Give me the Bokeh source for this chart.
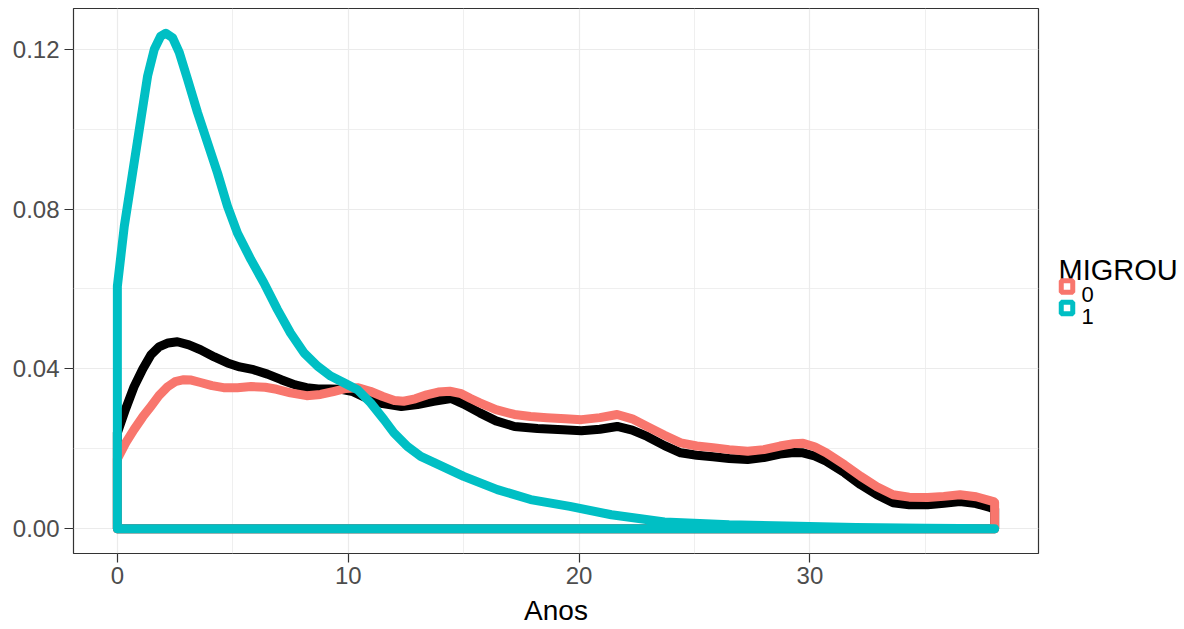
from bokeh.plotting import figure
from bokeh.layouts import row
from bokeh.models import Range1d, FixedTicker, PrintfTickFormatter
from bokeh.core.properties import value
from bokeh.embed import file_html
from bokeh.resources import INLINE

# ---- data (density estimates) ----
anos_total = [0.0, 0.36, 0.72, 1.1, 1.45, 1.8, 2.2, 2.6, 3.1, 3.6, 4.2, 4.77,
              5.3, 5.9, 6.5, 7.1, 7.7, 8.2, 8.7, 9.2, 9.7, 10.2, 10.8, 11.5,
              12.3, 13.0, 13.7, 14.45, 15.0, 15.7, 16.4, 17.2, 18.2, 19.3,
              20.1, 20.9, 21.65, 22.3, 22.95, 23.7, 24.4, 25.1, 25.8, 26.5,
              27.3, 28.0, 28.7, 29.3, 29.7, 30.2, 30.7, 31.5, 32.2, 32.9,
              33.6, 34.3, 35.1, 35.8, 36.5, 37.2, 37.8, 38.0]
dens_total = [0.024, 0.030, 0.0355, 0.040, 0.0435, 0.0455, 0.0465, 0.0468,
              0.046, 0.0448, 0.043, 0.0415, 0.0405, 0.0398, 0.0387, 0.0373,
              0.036, 0.0353, 0.035, 0.035, 0.0349, 0.0343, 0.0327, 0.0313,
              0.0306, 0.0311, 0.0319, 0.0326, 0.0312, 0.029, 0.027, 0.0256,
              0.0251, 0.0248, 0.0245, 0.0249, 0.0256, 0.0247, 0.0231, 0.0208,
              0.019, 0.0184, 0.018, 0.0176, 0.0173, 0.0178, 0.0187, 0.0191,
              0.019, 0.0182, 0.0169, 0.014, 0.011, 0.0085, 0.0065, 0.006,
              0.006, 0.0064, 0.0068, 0.0063, 0.0053, 0.005]

anos_0 = [0.0, 0.36, 0.72, 1.1, 1.45, 1.8, 2.17, 2.5, 2.88, 3.2, 3.6, 4.1,
          4.6, 5.2, 5.8, 6.4, 6.9, 7.5, 8.2, 8.8, 9.4, 9.9, 10.4, 10.95,
          11.5, 12.0, 12.4, 12.9, 13.4, 13.9, 14.4, 14.9, 15.3, 15.7, 16.4,
          17.2, 17.9, 18.6, 19.4, 20.1, 20.9, 21.65, 22.3, 22.95, 23.7, 24.4,
          25.1, 25.8, 26.5, 27.3, 28.0, 28.7, 29.3, 29.7, 30.2, 30.7, 31.5,
          32.2, 32.9, 33.6, 34.3, 35.1, 35.8, 36.5, 37.2, 37.95, 38.0]
dens_0 = [0.0175, 0.0215, 0.0248, 0.028, 0.0306, 0.0333, 0.0355, 0.0368,
          0.0373, 0.0372, 0.0366, 0.0358, 0.0353, 0.0353, 0.0356, 0.0354,
          0.0349, 0.034, 0.0333, 0.0336, 0.0344, 0.0351, 0.0353, 0.0344,
          0.0331, 0.0321, 0.0319, 0.0325, 0.0335, 0.0342, 0.0344, 0.0338,
          0.0326, 0.0315, 0.0298, 0.0286, 0.0281, 0.0278, 0.0275, 0.0273,
          0.0278, 0.0286, 0.0275, 0.0256, 0.0234, 0.0215, 0.0207, 0.0203,
          0.0198, 0.0194, 0.0198, 0.0207, 0.0213, 0.0214, 0.0205, 0.019,
          0.016, 0.0131, 0.0105, 0.0085, 0.0079, 0.0078, 0.0081, 0.0085,
          0.008, 0.0068, 0.0066]

anos_1 = [0.0, 0.3, 0.66, 1.02, 1.31, 1.6, 1.88, 2.1, 2.39, 2.68, 3.04, 3.47,
          3.9, 4.34, 4.77, 5.2, 5.78, 6.35, 6.93, 7.5, 8.09, 8.67, 9.24, 9.82,
          10.4, 10.97, 11.55, 11.98, 12.56, 13.14, 13.7, 15.0, 16.46, 17.9,
          19.6, 21.4, 23.7, 26.5, 29.0, 32.0, 35.0, 38.0]
dens_1 = [0.0607, 0.0757, 0.0891, 0.1025, 0.1133, 0.12, 0.1233, 0.124,
          0.1229, 0.1192, 0.1125, 0.1042, 0.0967, 0.089, 0.0807, 0.074,
          0.0674, 0.0615, 0.0549, 0.049, 0.044, 0.0407, 0.0382, 0.0365,
          0.0348, 0.0315, 0.0273, 0.024, 0.0206, 0.0181, 0.0166, 0.0131,
          0.0098, 0.0073, 0.0056, 0.0035, 0.0017, 0.001, 0.0007, 0.0003,
          0.0001, 0.0]

x_ticks = [0, 10, 20, 30]
x_minor = [5, 15, 25, 35]
y_ticks = [0.00, 0.04, 0.08, 0.12]
y_minor = [0.02, 0.06, 0.10]
legend_title = "MIGROU"
group_labels = ["0", "1"]
x_title = "Anos"

RED = "#F8766D"
TEAL = "#00BFC4"
FONT = "Liberation Sans"

TOP, BOTTOM = 8, 76   # borders around the panel


def closed(xs, ys):
    return [xs[0]] + list(xs) + [xs[-1]], [0.0] + list(ys) + [0.0]


# ---------------- main panel ----------------
p = figure(width=1040, height=629, output_backend="svg", toolbar_location=None,
           x_range=Range1d(-1.9, 39.9), y_range=Range1d(-0.0062, 0.1302),
           min_border_left=73, min_border_right=2, min_border_top=TOP,
           min_border_bottom=BOTTOM)

p.background_fill_color = "white"
p.border_fill_color = "white"
p.outline_line_color = "#333333"
p.outline_line_width = 1.2

for xs, ys, col in [(anos_total, dens_total, "black"),
                    (anos_0, dens_0, RED),
                    (anos_1, dens_1, TEAL)]:
    cx, cy = closed(xs, ys)
    p.patch(cx, cy, fill_alpha=0, line_color=col, line_width=9,
            line_join="round", line_cap="round")

p.xaxis.ticker = FixedTicker(ticks=x_ticks, minor_ticks=x_minor)
p.yaxis.ticker = FixedTicker(ticks=y_ticks, minor_ticks=y_minor)
p.yaxis.formatter = PrintfTickFormatter(format="%.2f")
for ax in (p.xaxis[0], p.yaxis[0]):
    ax.axis_line_color = None
    ax.major_tick_line_color = "#333333"
    ax.major_tick_line_width = 1.2
    ax.major_tick_out = 9
    ax.major_tick_in = 0
    ax.minor_tick_line_color = None
    ax.major_label_text_font = FONT
    ax.major_label_text_font_size = "24px"
    ax.major_label_text_color = "#4D4D4D"
    ax.major_label_standoff = 5
p.xaxis.major_label_standoff = 4
p.xaxis.axis_label = x_title
p.xaxis.axis_label_text_font = FONT
p.xaxis.axis_label_text_font_size = "28px"
p.xaxis.axis_label_text_font_style = "normal"
p.xaxis.axis_label_text_color = "black"
p.xaxis.axis_label_standoff = 8

for g in (p.xgrid[0], p.ygrid[0]):
    g.grid_line_color = "#EBEBEB"
    g.grid_line_width = 1.2
    g.minor_grid_line_color = "#EBEBEB"
    g.minor_grid_line_width = 0.8

# ---------------- legend panel (page pixel coordinates, y downwards) ----------------
lg = figure(width=144, height=629, output_backend="svg", toolbar_location=None,
            x_range=Range1d(1040, 1184), y_range=Range1d(629 - BOTTOM, TOP),
            min_border_left=0, min_border_right=0, min_border_top=TOP,
            min_border_bottom=BOTTOM, x_axis_type=None, y_axis_type=None)
lg.outline_line_color = None
lg.grid.visible = False
lg.background_fill_color = "white"
lg.border_fill_color = "white"

lg.text(x=[1058], y=[269], text=[legend_title], text_font=value(FONT),
        text_font_size="29px", text_color="black",
        text_baseline="alphabetic", text_align="left")
key_y = [286, 307.5]
lg.rect(x=[1066.5, 1066.5], y=key_y, width=11.5, height=11.5, fill_alpha=0,
        line_color=[RED, TEAL], line_width=5)
lg.text(x=[1081, 1081], y=[y + 8 for y in key_y], text=group_labels,
        text_font=value(FONT), text_font_size="22px", text_color="black",
        text_baseline="alphabetic", text_align="left")

layout = row(p, lg, spacing=0)
open("out.html", "w").write(file_html(layout, INLINE))
